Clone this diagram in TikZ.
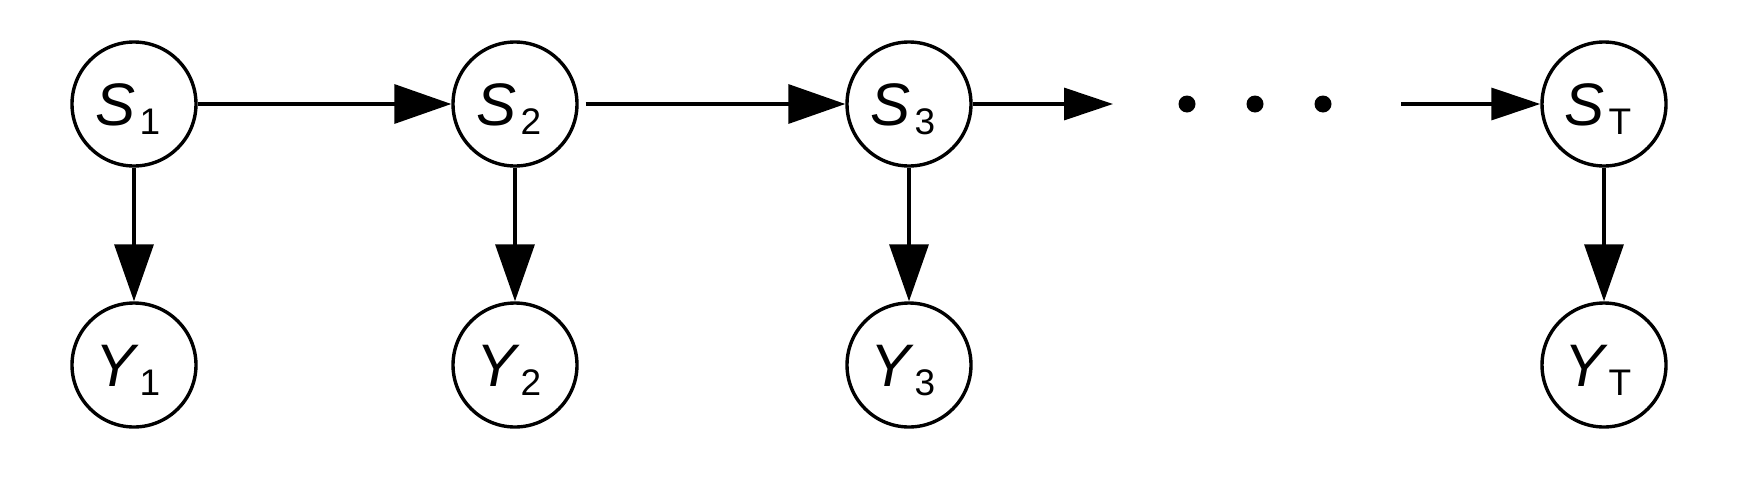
\documentclass[tikz,border=0pt]{standalone}
\usepackage{fontspec}
\setmainfont{Liberation Sans}
\usetikzlibrary{arrows.meta}
\newcommand{\lbl}[2]{\hspace{-12pt}{\fontsize{60}{64}\selectfont\itshape #1}\hspace{4pt}\raisebox{-9pt}{\fontsize{37}{40}\selectfont #2}}
\begin{document}
\begin{tikzpicture}[x=1pt,y=1pt,
  var/.style={circle,draw,line width=3.4pt,minimum size=124pt,inner sep=0pt,text height=43pt,text depth=0pt},
  bigarr/.style={line width=3.4pt,-{Triangle[length=57pt,width=39pt]}},
  smallarr/.style={line width=3.4pt,-{Triangle[length=49pt,width=32pt]}},
  dotnode/.style={circle,fill,minimum size=17pt,inner sep=0pt}]
\path[use as bounding box] (0,0) rectangle (1756,-496);
\node[var] (S1) at (134,-104) {\lbl{S}{1}};
\node[var] (S2) at (515,-104) {\lbl{S}{2}};
\node[var] (S3) at (909,-104) {\lbl{S}{3}};
\node[var] (ST) at (1604,-104) {\lbl{S}{T}};
\node[var] (Y1) at (134,-365) {\lbl{Y}{1}};
\node[var] (Y2) at (515,-365) {\lbl{Y}{2}};
\node[var] (Y3) at (909,-365) {\lbl{Y}{3}};
\node[var] (YT) at (1604,-365) {\lbl{Y}{T}};
\node[dotnode] (d1) at (1187,-104) {};
\node[dotnode] (d2) at (1255,-104) {};
\node[dotnode] (d3) at (1323,-104) {};
\coordinate (out3) at (1113,-104);
\coordinate (inT) at (1401,-104);
\draw[bigarr] (S1) -- (S2);
\draw[bigarr,shorten <=7pt] (S2) -- (S3);
\draw[smallarr] (S3) -- (out3);
\draw[smallarr] (inT) -- (ST);
\draw[bigarr] (S1) -- (Y1);
\draw[bigarr] (S2) -- (Y2);
\draw[bigarr] (S3) -- (Y3);
\draw[bigarr] (ST) -- (YT);
\end{tikzpicture}
\end{document}
